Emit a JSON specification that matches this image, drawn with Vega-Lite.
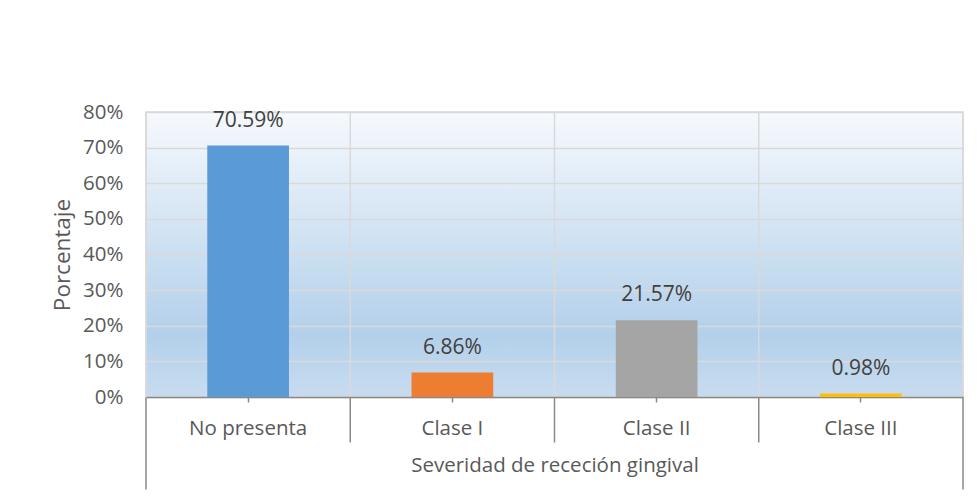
{
  "$schema": "https://vega.github.io/schema/vega-lite/v6.json",
  "width": 817,
  "height": 285,
  "autosize": {"type": "none"},
  "padding": {"left": 146, "top": 112, "right": 17, "bottom": 99},
  "background": "white",
  "config": {
    "font": "Open Sans",
    "view": {
      "stroke": "#d9d9d9",
      "strokeWidth": 1.5,
      "fill": {
        "gradient": "linear",
        "x1": 0, "y1": 0, "x2": 0, "y2": 1,
        "stops": [
          {"offset": 0, "color": "#f6f9fd"},
          {"offset": 0.78, "color": "#b3d0ea"},
          {"offset": 1, "color": "#c8dcf0"}
        ]
      }
    }
  },
  "data": {
    "values": [
      {"Categoria": "No presenta", "Porcentaje": 0.7059},
      {"Categoria": "Clase I", "Porcentaje": 0.0686},
      {"Categoria": "Clase II", "Porcentaje": 0.2157},
      {"Categoria": "Clase III", "Porcentaje": 0.0098}
    ]
  },
  "layer": [
    {
      "encoding": {
        "x": {
          "field": "Categoria",
          "type": "nominal",
          "sort": null,
          "scale": {"paddingInner": 0.6, "paddingOuter": 0.3},
          "axis": {
            "orient": "bottom",
            "title": "Severidad de receción gingival",
            "titleFont": "Open Sans",
            "titleFontSize": 20.5,
            "titleFontWeight": "normal",
            "titleColor": "#595959",
            "titlePadding": 17,
            "labelFont": "Open Sans",
            "labelFontSize": 20.5,
            "labelColor": "#595959",
            "labelAngle": 0,
            "labelPadding": 16,
            "tickSize": 5,
            "tickColor": "#898989",
            "tickWidth": 1.5,
            "domainColor": "#898989",
            "domainWidth": 1.5,
            "grid": false
          }
        },
        "y": {
          "field": "Porcentaje",
          "type": "quantitative",
          "scale": {"domain": [0, 0.8]},
          "axis": {
            "title": "Porcentaje",
            "titleFont": "Open Sans",
            "titleFontSize": 22.5,
            "titleFontWeight": "normal",
            "titleColor": "#595959",
            "titlePadding": 8,
            "format": ".0%",
            "values": [0, 0.1, 0.2, 0.3, 0.4, 0.5, 0.6, 0.7, 0.8],
            "labelFont": "Open Sans",
            "labelFontSize": 20.5,
            "labelColor": "#595959",
            "labelPadding": 23,
            "ticks": false,
            "domain": false,
            "grid": true,
            "gridColor": "#d9d9d9",
            "gridWidth": 1.5
          }
        }
      },
      "layer": [
        {
          "mark": {"type": "bar"},
          "encoding": {
            "color": {
              "field": "Categoria",
              "type": "nominal",
              "scale": {
                "domain": ["No presenta", "Clase I", "Clase II", "Clase III"],
                "range": ["#5b9bd5", "#ed7d31", "#a5a5a5", "#ffc000"]
              },
              "legend": null
            }
          }
        },
        {
          "mark": {
            "type": "text",
            "baseline": "middle",
            "dy": -25,
            "font": "Open Sans",
            "fontSize": 21,
            "color": "#404040"
          },
          "encoding": {
            "text": {"field": "Porcentaje", "type": "quantitative", "format": ".2%"}
          }
        }
      ]
    },
    {
      "mark": {"type": "point", "opacity": 0},
      "encoding": {
        "x": {
          "aggregate": "count",
          "type": "quantitative",
          "scale": {"domain": [0, 4], "nice": false, "zero": false},
          "axis": {
            "orient": "bottom",
            "title": null,
            "values": [0, 1, 2, 3, 4],
            "labels": false,
            "domain": false,
            "grid": true,
            "gridColor": "#d9d9d9",
            "gridWidth": 1.5,
            "tickColor": "#898989",
            "tickWidth": 1.5,
            "tickRound": false,
            "tickOffset": -0.5,
            "tickSize": {"condition": {"test": "datum.value < 0.5 || datum.value > 3.5", "value": 92}, "value": 45}
          }
        }
      }
    }
  ],
  "resolve": {"scale": {"x": "independent"}}
}
